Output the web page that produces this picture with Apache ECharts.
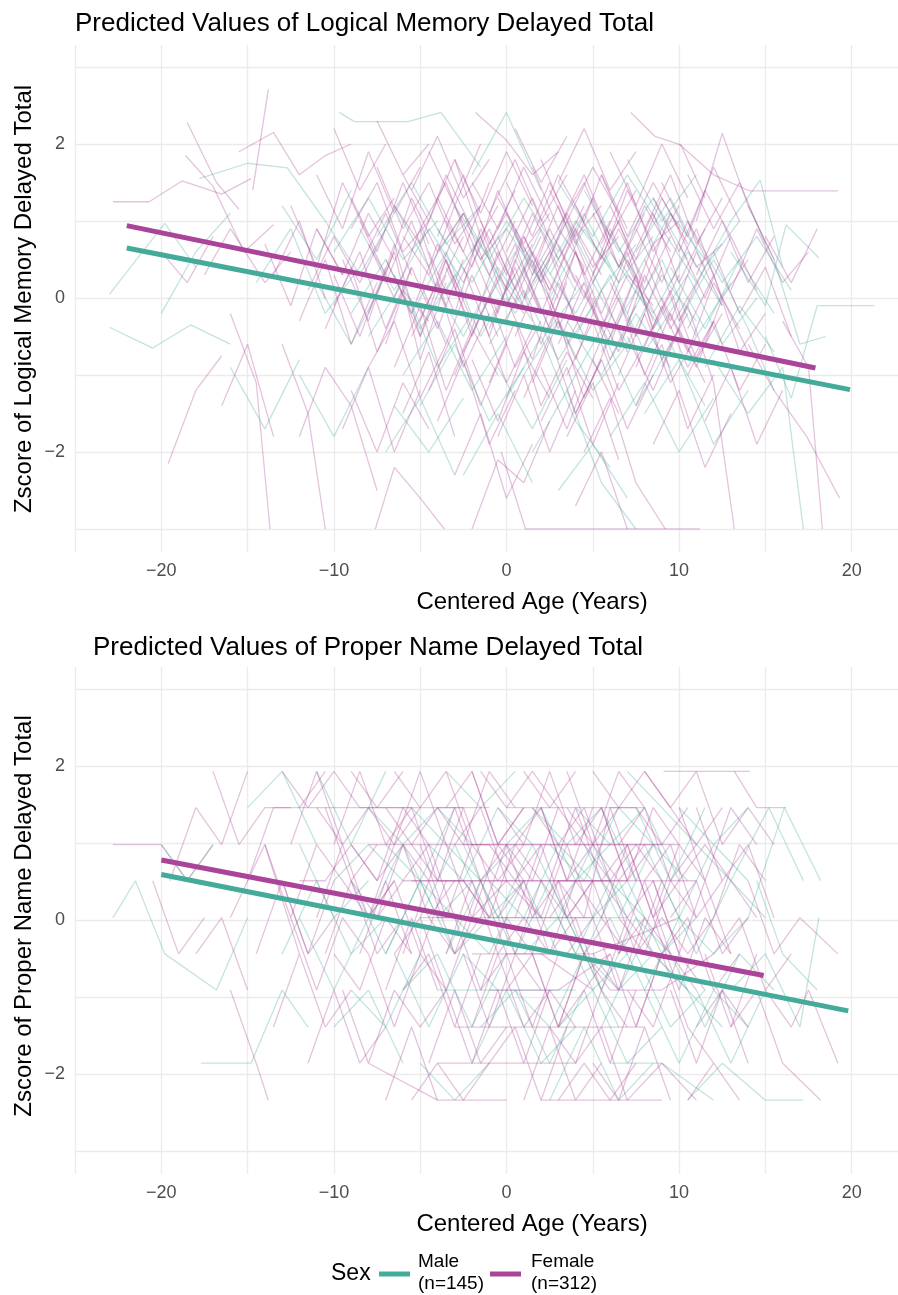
<!DOCTYPE html>
<html>
<head>
<meta charset="utf-8">
<script src="https://cdn.jsdelivr.net/npm/echarts/dist/echarts.min.js"></script>
<style>
  html, body { margin: 0; padding: 0; background: #ffffff; }
  #chart { width: 898px; height: 1295px; }
</style>
</head>
<body>
<div id="chart"></div>
<script>
// colours of the two groups
const MALE = '#44AA99';
const FEMALE = '#AA4499';

const xTicks = [-20, -10, 0, 10, 20];
const yTicks = [-2, 0, 2];

// one row = one subject, flat list of age, zscore, age, zscore ...
// Logical Memory Delayed Total
const lmFemale = [
  [-22.8,1.25,-20.7,1.25,-18.8,1.52,-16.5,1.35,-14.8,1.55],
  [-19.6,-2.15,-18,-1.2,-16.5,-0.75],
  [-18.5,2.28,-16.8,1.5,-15.5,1.15],
  [-14.7,1.4,-13.8,2.71],
  [-18.6,1.85,-17,1.45,-15.2,0.6,-13.5,0.95],
  [-17.5,0.3,-16,0.9,-14,0.2,-12.5,0.6],
  [-16,-0.2,-14.5,-1.1,-13.7,-3.0],
  [-15.5,1.9,-13.5,2.15,-12,1.6,-10.5,1.85,-9,2.0],
  [-14,0.7,-12.5,-0.1,-11,0.9,-9.5,0.3],
  [-13,-0.6,-11.5,-1.5,-10.5,-3.0],
  [-12.5,1.2,-11,0.4,-9.5,1.5,-8,0.8,-6.5,1.3],
  [-12,-1.8,-10.5,-0.9,-9,-1.4,-7.5,-2.5],
  [-11.5,0.1,-10,0.8,-8.5,0.2,-7,0.9],
  [-11,1.6,-9.5,0.9,-8,1.9,-6.5,1.1,-5,1.7],
  [-10.5,-0.4,-9,0.4,-7.5,-0.7,-6,0.1,-4.5,-0.3],
  [-10,2.2,-8.5,1.4,-7,2.0],
  [-9.5,0.5,-8,-0.3,-6.5,0.7,-5,-0.5,-3.5,0.3],
  [-9,-1.2,-7.5,-2.0,-6,-1.1,-4.5,-1.7],
  [-8.5,1.0,-7,0.3,-5.5,1.3,-4,0.6,-2.5,1.1],
  [-8,-0.2,-6.5,0.6,-5,-0.8,-3.5,0.2],
  [-7.6,-3.0,-6.5,-2.2,-5,-2.6,-3.6,-3.0],
  [-7.5,1.7,-6,0.9,-4.5,1.5,-3,0.7,-1.5,1.2],
  [-7,0.2,-5.5,1.0,-4,0.1,-2.5,0.8],
  [-6.5,-0.9,-5,-0.1,-3.5,-1.2,-2,-0.4,-0.5,-1.0],
  [-6,0.8,-4.5,0.3,-3,1.2,-1.5,0.5,0,0.9],
  [-5.5,1.4,-4,2.1,-2.5,1.3,-1,1.8],
  [-5,-0.3,-3.5,0.5,-2,-0.5,-0.5,0.3,1,-0.2],
  [-4.5,0.6,-3,-0.2,-1.5,0.9,0,0.1,1.5,0.7],
  [-4,-1.6,-2.5,-0.8,-1,-1.9,0.5,-1.2],
  [-3.5,1.0,-2,0.4,-0.5,1.4,1,0.6,2.5,1.1],
  [-3,0.1,-1.5,0.8,0,-0.1,1.5,0.6,3,0.0],
  [-2.5,-0.7,-1,0.0,0.5,-0.9,2,-0.3],
  [-2,-3.0,-0.5,-2.1,1,-2.4,2.5,-1.6],
  [-1.8,2.41,0,2.05,1.5,1.6,3,1.9],
  [-1.5,0.5,0,1.1,1.5,0.3,3,0.9,4.5,0.4],
  [-1,-0.4,0.5,0.4,2,-0.6,3.5,0.2],
  [-0.5,1.3,1,0.7,2.5,1.5,4,0.8,5.5,1.2],
  [0,0.0,1.5,-0.8,3,0.2,4.5,-0.5],
  [0.5,0.9,2,0.2,3.5,1.1,5,0.4,6.5,0.8],
  [1,-1.3,2.5,-0.5,4,-1.5,5.5,-0.8],
  [-0.3,-2.0,1.1,-3.0,5,-3.0,11.2,-3.0],
  [1.5,0.4,3,1.2,4.5,0.3,6,1.0],
  [2,1.8,3.5,1.0,5,1.7,6.5,1.1],
  [2.5,-0.2,4,0.6,5.5,-0.4,7,0.3,8.5,-0.1],
  [3,0.7,4.5,0.0,6,0.9,7.5,0.2],
  [3.5,-1.0,5,-0.3,6.5,-1.2,8,-0.6],
  [4,1.2,5.5,0.5,7,1.4,8.5,0.7,10,1.0],
  [4.5,-2.0,6,-1.3,7.5,-2.4,9.2,-3.0],
  [5,0.3,6.5,1.0,8,0.1,9.5,0.8],
  [5.5,1.6,7,0.8,8.5,1.5,10,0.9],
  [6,-0.5,7.5,0.3,9,-0.8,10.5,-0.2],
  [6.5,0.9,8,0.2,9.5,1.1,11,0.4,12.5,0.7],
  [7.2,2.41,8.6,2.1,10.1,1.99,11.5,1.3],
  [7.5,-1.4,9,-0.6,10.5,-1.7,12,-1.0],
  [8,0.5,9.5,-0.3,11,0.6,12.5,-0.1],
  [8.5,1.3,10,0.6,11.5,1.4,13,0.8],
  [9,-0.9,10.5,-0.1,12,-1.1,13.2,-3.0],
  [9.5,0.2,11,0.9,12.5,0.0,14,0.5],
  [10,2.0,12,1.6,14.1,1.39,19.2,1.39],
  [10.5,-0.4,12,0.3,13.5,-0.7,15,-0.2],
  [11,1.0,12.5,2.14,14,1.2,15.5,0.5],
  [11.5,-1.6,13,-0.9,14.5,-1.9,16,-1.2],
  [12,0.6,13.5,-0.2,15,0.4,16.5,-0.5],
  [13,0.1,14.5,0.9,16,0.2,17.5,0.6],
  [14,-0.6,15.5,-1.2,17.4,-1.8,19.3,-2.6],
  [15,0.8,16.5,0.2,18,0.9],
  [16,-0.3,17.5,-0.9,18.3,-3.0],
  [-20,0.6,-18.5,0.2,-17,0.8],
  [-16.5,-1.4,-15,-0.6,-13.5,-1.8],
  [-13.5,0.3,-12,1.0,-10.5,0.0],
  [-2,1.5,-0.5,0.9,1,1.7,2.5,1.0],
  [-1,-1.1,0.5,-0.3,2,-1.4,3.5,-0.7,5,-1.3],
  [0,0.6,1.5,1.3,3,0.5,4.5,1.2],
  [2,-0.9,3.5,-1.7,5,-0.8,6.5,-1.5],
  [3,1.5,4.5,2.2,6,1.4,7.5,1.9],
  [-4,0.3,-2.5,1.1,-1,0.3,0.5,1.0],
  [-6,-1.5,-4.5,-0.7,-3,-1.8],
  [5,0.0,6.5,-0.7,8,0.3,9.5,-0.4,11,0.2],
  [-8.5,0.4,-7,1.1,-5.5,0.3],
  [7,-0.2,8.5,0.7,10,-0.3,11.5,0.4],
  [-9,0.9,-7.5,1.5,-6,0.6,-4.5,1.0],
  [-8,-0.9,-6.5,-0.3,-5,-1.3,-3.5,-0.6],
  [-7,0.5,-5.5,-0.2,-4,0.7,-2.5,0.0],
  [-6.5,1.2,-5,0.7,-3.5,1.6,-2,0.9],
  [-5.5,-0.5,-4,0.2,-2.5,-0.9,-1,-0.2],
  [-5,0.9,-3.5,1.5,-2,0.6,-0.5,1.2],
  [-4.5,-1.2,-3,-0.4,-1.5,-1.4,0,-0.6],
  [-3.5,0.4,-2,-0.4,-0.5,0.6,1,-0.1],
  [-3,1.8,-1.5,1.1,0,1.9,1.5,1.2],
  [-2.5,0.2,-1,0.9,0.5,0.1,2,0.8],
  [-2,-0.8,-0.5,-1.6,1,-0.7,2.5,-1.3],
  [-1.5,1.0,0,0.3,1.5,1.1,3,0.4],
  [-1,0.0,0.5,0.7,2,-0.2,3.5,0.6],
  [-0.5,-1.8,1,-1.0,2.5,-2.0,4,-1.2],
  [0,1.5,1.5,0.8,3,1.6,4.5,1.0],
  [0.5,-0.5,2,0.3,3.5,-0.6,5,0.1],
  [1,0.8,2.5,0.1,4,0.9,5.5,0.3],
  [1.5,-1.1,3,-0.3,4.5,-1.3,6,-0.5],
  [2,0.3,3.5,1.0,5,0.2,6.5,0.9],
  [2.5,1.4,4,0.7,5.5,1.6,7,0.9],
  [3,-0.6,4.5,0.2,6,-0.8,7.5,-0.1],
  [3.5,0.6,5,1.3,6.5,0.4,8,1.1],
  [4,-1.5,5.5,-0.8,7,-1.7,8.5,-1.0],
  [4.5,0.1,6,-0.6,7.5,0.3,9,-0.4],
  [5,1.1,6.5,0.4,8,1.2,9.5,0.6],
  [5.5,-0.2,7,0.6,8.5,-0.4,10,0.3],
  [6,1.9,7.5,1.2,9,2.0,10.5,1.3],
  [6.5,-1.0,8,-0.2,9.5,-1.1,11,-0.5],
  [7,0.4,8.5,1.1,10,0.2,11.5,0.9],
  [7.5,0.9,9,0.2,10.5,1.0,12,0.3],
  [8,-0.6,9.5,0.1,11,-0.8,12.5,-0.2],
  [8.5,-1.9,10,-1.2,11.5,-2.2,13,-1.5],
  [9,1.5,10.5,0.8,12,1.7,13.5,1.0],
  [9.5,-0.2,11,-0.9,12.5,0.0,14,-0.7],
  [10,0.7,11.5,0.0,13,0.8,14.5,0.1],
  [10.5,-1.0,12,-0.3,13.5,-1.2,15,-0.6],
  [11,0.3,12.5,1.0,14,0.2,15.5,0.8],
  [-10,-0.1,-8.5,0.6,-7,-0.4,-5.5,0.4],
  [-11,0.9,-9.5,0.3,-8,1.1,-6.5,0.5],
  [-12,-0.3,-10.5,0.5,-9,-0.6,-7.5,0.2],
  [-9.5,-1.7,-8,-0.9,-6.5,-2.0,-5,-1.2],
  [-7.5,2.3,-6,1.6,-4.5,2.0],
  [-3,-2.3,-1.5,-1.5,0,-2.6,1.5,-1.9],
  [0.5,2.2,2,1.5,3.5,2.1],
  [4,-2.7,5.5,-2.0,7,-3.0],
  [-4,1.3,-2.5,0.6,-1,1.5],
  [1,0.0,2.5,0.6,4,-0.3],
  [6,0.2,7.5,-0.5,9,0.4],
  [-8,0.7,-6.5,0.0,-5,0.9,-3.5,-0.1],
  [-7,-0.6,-5.5,0.4,-4,-0.4,-2.5,0.5],
  [-6,1.6,-4.5,1.0,-3,1.8,-1.5,0.8],
  [-5,0.2,-3.5,-0.6,-2,0.3,-0.5,-0.5],
  [-4,0.8,-2.5,1.6,-1,0.7,0.5,1.4],
  [-3,-1.0,-1.5,-0.2,0,-1.1,1.5,-0.4],
  [-2,0.6,-0.5,-0.2,1,0.8,2.5,0.1],
  [-1,1.1,0.5,1.8,2,1.0,3.5,1.6],
  [0,-0.3,1.5,0.5,3,-0.4,4.5,0.4],
  [1,0.4,2.5,-0.4,4,0.6,5.5,-0.2],
  [2,-1.6,3.5,-0.9,5,-1.9,6.5,-1.1],
  [3,0.9,4.5,1.6,6,0.8,7.5,1.4],
  [4,0.3,5.5,-0.4,7,0.5,8.5,-0.3],
  [5,-0.8,6.5,0.0,8,-1.0,9.5,-0.2],
  [6,1.2,7.5,0.5,9,1.3,10.5,0.7],
  [7,-0.5,8.5,-1.2,10,-0.4,11.5,-1.1],
  [8,0.9,9.5,1.6,11,0.7,12.5,1.3],
  [9,0.0,10.5,-0.7,12,0.2,13.5,-0.4],
  [-6.5,0.3,-5,-0.5,-3.5,0.5,-2,-0.3],
  [-4.5,1.9,-3,1.2,-1.5,2.0],
  [-2.5,0.4,-1,-0.5,0.5,0.5,2,-0.2],
  [-0.5,0.8,1,0.0,2.5,0.9,4,0.2],
  [1.5,1.7,3,0.9,4.5,1.5,6,0.7],
  [2.5,0.0,4,-0.8,5.5,0.1,7,-0.7],
  [3.5,-1.8,5,-1.1,6.5,-2.1],
  [5.5,0.7,7,1.5,8.5,0.6,10,1.2],
  [7.5,-0.9,9,-0.1,10.5,-0.9,12,-0.3],
  [-9,1.3,-7.5,0.6,-6,1.5,-4.5,0.7],
  [-10,0.3,-8.5,-0.5,-7,0.4],
  [10.5,1.6,12,0.9,13.5,1.5,15,0.7]
];
const lmMale = [
  [-23,0.05,-19.8,0.97,-18,0.4],
  [-23,-0.38,-20.5,-0.65,-18.3,-0.35,-16,-0.6],
  [-17.8,1.55,-15,1.75,-12.7,1.69,-10.5,1.0],
  [-9.7,2.41,-8.8,2.29,-5.7,2.29,-3.8,2.41,-1.5,1.7],
  [-14.5,0.2,-12.5,0.9,-10.5,-0.2,-8.5,0.4],
  [-12,-1.0,-10,-1.8,-8,-0.9],
  [-10,0.6,-8,1.3,-6,0.5,-4,1.0],
  [-8,-0.5,-6,0.2,-4,-0.9,-2,-0.2],
  [-6.5,1.2,-4.5,0.4,-2.5,1.1,-0.5,0.3],
  [-5,-1.4,-3,-0.6,-1,-1.6,1,-0.9],
  [-3.5,0.1,-1.5,0.8,0.5,-0.2,2.5,0.5],
  [-2,1.6,0,2.41,2,1.4],
  [-1,-0.6,1,0.1,3,-0.8,5,-0.1],
  [0.5,0.8,2.5,0.0,4.5,0.9,6.5,0.2],
  [1.5,-2.0,3.5,-1.2,5.5,-2.4,7.5,-3.0],
  [2.5,0.3,4.5,1.1,6.5,0.2,8.5,0.8],
  [3.5,-0.3,5.5,-1.0,7.5,-0.2,9.5,-0.9],
  [4.5,1.4,6.5,0.6,8.5,1.3,10.5,0.5],
  [5.5,-0.7,7.5,0.1,9.5,-0.6,11.5,-1.4],
  [6.5,0.5,8.5,-0.2,10.5,0.6,12.5,-0.1],
  [8,-1.5,10,-0.8,12,-1.9,14,-1.2],
  [9,0.9,11,0.2,13,1.0,14.7,1.53,16,0.4],
  [10,-0.3,12,0.5,14,-0.4,15.5,-1.2],
  [12,-0.8,14,-1.5,16,-0.9,17.2,-3.0],
  [13,0.6,15,-0.1,16.2,0.95,18.1,0.52],
  [15,-0.5,16.5,-1.3,18,-0.1,21.3,-0.1],
  [14,1.2,15.5,0.5,17,-0.6,18.5,-0.5],
  [-16,-0.9,-14,-1.7,-12,-0.8],
  [-4,0.9,-2,0.2,0,1.0,2,0.3],
  [0,-1.3,2,-0.5,4,-1.6,6,-2.2],
  [-20,-0.2,-18,0.6,-16,1.1],
  [7,1.8,9,1.0,11,1.6],
  [3,-2.5,5,-1.9,7,-2.6],
  [-7,-2.0,-5,-1.3,-3,-2.3],
  [-9,-0.2,-7,0.5,-5,-0.4,-3,0.3],
  [-7.5,0.8,-5.5,1.5,-3.5,0.7,-1.5,1.2],
  [-6,-1.0,-4,-0.3,-2,-1.2,0,-0.5],
  [-4.5,0.3,-2.5,-0.5,-0.5,0.4,1.5,-0.3],
  [-3,1.2,-1,0.5,1,1.3,3,0.6],
  [-1.5,-0.2,0.5,0.6,2.5,-0.4,4.5,0.2],
  [0,0.9,2,0.2,4,1.0,6,0.4],
  [1,-1.0,3,-0.3,5,-1.2,7,-0.6],
  [2,0.5,4,-0.2,6,0.6,8,-0.1],
  [3,1.5,5,0.8,7,1.6,9,0.9],
  [4,-0.5,6,0.3,8,-0.7,10,0.0],
  [5,0.2,7,-0.6,9,0.3,11,-0.3],
  [6,-1.8,8,-1.1,10,-2.0,12,-1.3],
  [7.5,0.6,9.5,1.3,11.5,0.4,13.5,1.0],
  [8.5,-0.4,10.5,0.3,12.5,-0.6,14.5,0.0],
  [-11,0.2,-9,-0.6,-7,0.3],
  [-2.5,-2.3,-0.5,-1.5,1.5,-2.4],
  [10.5,1.0,12.5,0.2,14.5,0.8,16.5,0.1],
  [-13,1.2,-11,0.5,-9,1.4],
  [-8.5,0.9,-6.5,0.1,-4.5,0.9,-2.5,0.2],
  [-5.5,-0.2,-3.5,0.6,-1.5,-0.5,0.5,0.3],
  [-2,0.7,0,-0.1,2,0.9,4,0.1],
  [1.5,0.2,3.5,1.0,5.5,0.1,7.5,0.7],
  [3.5,-1.2,5.5,-0.4,7.5,-1.4,9.5,-0.6],
  [5.5,1.0,7.5,0.3,9.5,1.1,11.5,0.5],
  [7,-0.3,9,0.5,11,-0.5,13,0.2],
  [9.5,0.4,11.5,-0.4,13.5,0.5,15.5,-0.2],
  [-0.5,-0.9,1.5,-1.7,3.5,-0.8],
  [-10.5,1.0,-8.5,0.3,-6.5,1.1],
  [11.5,-0.9,13.5,-0.1,15.5,-0.7],
  [-6.5,-1.4,-4.5,-2.0,-2.5,-1.3]
];

// Proper Name Delayed Total (scores sit on fixed levels)
const pnFemale = [
  [-22.8,0.98,-20,0.98,-18.5,0.51,-17,0.98],
  [-19.5,0.51,-18,1.46,-16.5,0.98,-15,1.93],
  [-18,-0.44,-16.5,0.03,-15,-0.91],
  [-17,1.93,-15.5,0.98,-14,1.46,-12.5,1.46],
  [-16,-0.91,-14.5,-1.86,-13.8,-2.34],
  [-15,0.51,-13.5,1.46,-12,1.46,-10.5,1.93],
  [-14.5,-0.44,-13,0.51,-11.5,-0.44,-10,0.03],
  [-14,0.98,-12.5,0.03,-11,0.98,-9.5,0.51],
  [-13.5,-1.39,-12,-0.44,-10.5,-1.39,-9,-0.91],
  [-13,1.93,-11.5,1.46,-10,1.93,-8.5,1.46],
  [-12.5,0.03,-11,-0.91,-9.5,0.03,-8,-0.44],
  [-12,0.51,-10.5,0.51,-9,0.98,-7.5,0.51],
  [-11.5,-1.86,-10,-0.91,-8.5,-1.86,-7,-1.39],
  [-11,1.46,-9.5,0.98,-8,1.46,-6.5,0.98,-5,1.46],
  [-10.5,-0.44,-9,0.51,-7.5,-0.44,-6,0.03],
  [-10,0.98,-8.5,1.93,-7,0.98,-5.5,1.46],
  [-9.5,-0.91,-8,-1.86,-6.5,-0.91,-5,-1.39],
  [-9,0.51,-7.5,0.03,-6,0.51,-4.5,0.98],
  [-8.5,1.46,-7,1.46,-5.5,1.46,-4,0.51],
  [-8,-0.44,-6.5,-1.39,-5,-0.44,-3.5,-0.91],
  [-7.5,0.03,-6,0.98,-4.5,0.03,-3,0.51],
  [-7,-2.34,-5.5,-1.39,-4,-2.34],
  [-6.5,1.93,-5,1.46,-3.5,1.93,-2,0.98],
  [-6,-0.91,-4.5,-0.44,-3,-1.39,-1.5,-0.44],
  [-5.5,0.51,-4,0.51,-2.5,0.51,-1,0.03],
  [-5,0.98,-3.5,0.03,-2,0.98,-0.5,0.51,1,0.98],
  [-4.5,-1.86,-3,-0.91,-1.5,-1.86,0,-1.39],
  [-4,1.46,-2.5,0.98,-1,1.93,0.5,1.46],
  [-3.5,-0.44,-2,0.51,-0.5,-0.44,1,0.03],
  [-3,0.03,-1.5,-0.91,0,0.03,1.5,-0.44],
  [-2.5,0.98,-1,0.98,0.5,0.51,2,0.98],
  [-2,-1.39,-0.5,-0.44,1,-1.39,2.5,-0.91],
  [-1.5,1.93,0,1.46,1.5,1.93,3,1.46],
  [-1,0.51,0.5,-0.44,2,0.51,3.5,0.03],
  [-0.5,-0.91,1,-1.86,2.5,-0.91,4,-1.39],
  [0,0.98,1.5,0.51,3,1.46,4.5,0.98],
  [0.5,0.03,2,0.98,3.5,0.03,5,0.51],
  [1,-2.34,2.5,-1.39,4,-2.34,5.5,-1.86],
  [1.5,1.46,3,0.98,4.5,1.46,6,0.51],
  [2,-0.44,3.5,-0.44,5,0.03,6.5,-0.91],
  [2.5,0.51,4,1.46,5.5,0.51,7,0.98],
  [3,-1.39,4.5,-0.91,6,-1.86,7.5,-0.91],
  [3.5,1.93,5,0.98,6.5,1.93,8,1.46],
  [4,0.03,5.5,-0.91,7,0.03,8.5,-0.44],
  [4.5,0.98,6,0.51,7.5,0.98,9,0.51],
  [5,-1.86,6.5,-2.34,8,-1.39,9.5,-2.34],
  [5.5,0.51,7,0.03,8.5,0.51,10,-0.44],
  [6,1.46,7.5,1.46,9,0.98,10.5,1.46],
  [6.5,-0.44,8,0.51,9.5,-0.44,11,-0.91],
  [7,0.98,8.5,0.03,10,0.98,11.5,0.51],
  [7.5,-1.39,9,-0.44,10.5,-1.39,12,-1.86],
  [8,1.93,9.5,1.46,11,1.93,12.5,0.98],
  [8.5,0.03,10,-0.91,11.5,0.03,13,-0.44],
  [9.1,1.93,11.5,1.93,14.1,1.93],
  [9.5,-0.91,11,-1.86,12.5,-0.91,14,-1.39],
  [10,0.51,11.5,0.98,13,0.51,14.5,0.03],
  [10.5,-2.34,12,-1.86,13.5,-2.34],
  [11,1.46,12.5,0.51,14,0.98,15.5,0.03],
  [12,-0.44,13.5,0.03,15,-0.91,16.5,-0.44],
  [13.2,1.93,14.5,1.46,16.2,1.46],
  [13,-1.39,14.5,-0.91,16,-1.86,18.2,-2.34],
  [14,0.51,15.5,-0.44,17,0.03,19.2,-0.44],
  [15,-0.91,16.5,-1.39,17.5,-0.91,19.2,-1.86],
  [-12,1.46,-6,1.46,-1,1.46],
  [-2,0.98,4,0.98,9,0.98],
  [-6,0.51,0,0.51,6,0.51],
  [-3,-1.39,3,-1.39,8,-1.39],
  [-8,-1.86,-4,-2.34,0,-2.34],
  [2,-2.34,6,-2.34,9,-2.34],
  [-16,0.03,-14,0.98,-12,-0.44],
  [-20.5,0.51,-19,-0.44,-17.5,0.03],
  [-1,-0.91,3,-0.91,6,-0.44],
  [0,-0.44,5,-0.44,10,0.03],
  [-9,1.93,-7.5,1.46,-6,1.93],
  [5,1.93,6.5,1.46,8,1.93,9.5,1.46],
  [-4,0.03,-2,0.03,0,0.51,2,0.03],
  [11.5,-0.44,13,-1.39,14.5,-0.44],
  [3,0.51,4.5,0.03,6,1.46,7.5,0.51],
  [-7,-0.91,-5.5,0.03,-4,-0.91],
  [12.5,0.98,14,1.46,15.5,0.98],
  [-9,0.98,-7.5,0.51,-6,0.98,-4.5,0.51],
  [-8,0.03,-6.5,0.51,-5,-0.44,-3.5,0.51],
  [-7,1.46,-5.5,0.98,-4,1.46,-2.5,1.46],
  [-6,-0.44,-4.5,0.51,-3,-0.44,-1.5,0.03],
  [-5,-1.39,-3.5,-0.91,-2,-1.86,-0.5,-0.91],
  [-4.5,0.51,-3,1.46,-1.5,0.51,0,0.98],
  [-3.5,0.98,-2,0.03,-0.5,0.98,1,0.51],
  [-2.5,-0.44,-1,-1.39,0.5,-0.44,2,-0.91],
  [-1.5,0.03,0,0.98,1.5,0.03,3,0.51],
  [-0.5,1.46,1,0.98,2.5,1.93,4,0.98],
  [0,-0.91,1.5,-0.44,3,-1.39,4.5,-0.44],
  [0.5,0.51,2,0.03,3.5,0.98,5,0.03],
  [1.5,-0.44,3,0.51,4.5,-0.44,6,0.03],
  [2,1.46,3.5,0.51,5,0.98,6.5,1.46],
  [2.5,-1.39,4,-1.86,5.5,-0.91,7,-1.39],
  [3.5,0.03,5,0.51,6.5,-0.44,8,0.03],
  [4,0.98,5.5,1.46,7,0.51,8.5,0.98],
  [5,-0.44,6.5,-0.91,8,0.03,9.5,-0.44],
  [5.5,1.46,7,0.51,8.5,1.46,10,0.98],
  [6.5,0.03,8,-0.44,9.5,0.51,11,0.03],
  [7,-0.91,8.5,-1.39,10,-0.44,11.5,-0.91],
  [8,0.51,9.5,0.98,11,0.03,12.5,0.51],
  [9,-0.44,10.5,0.03,12,-0.91,13.5,-0.44],
  [10,1.46,11.5,0.51,13,1.46,14.5,0.98],
  [-11,0.03,-9.5,0.98,-8,0.03,-6.5,0.51],
  [-10,-0.44,-8.5,-0.91,-7,0.03,-5.5,-0.44],
  [-12.5,0.98,-11,1.93,-9.5,0.98],
  [-2,1.93,-0.5,0.98,1,1.46],
  [-5.5,-2.34,-4,-1.86,-2.5,-2.34,-1,-1.86],
  [3,-2.34,4.5,-1.86,6,-2.34,7.5,-1.86],
  [0,1.46,4,1.46,8,1.46],
  [-8,0.98,-3,0.98,2,0.98],
  [3,0.51,8,0.51,11,0.51],
  [-5,0.03,0,0.03,5,0.03],
  [-2,-0.44,2,-0.44,5,-0.91],
  [6,-0.91,9,-0.91,12,-0.44],
  [-4,-1.86,0,-1.86,4,-1.86],
  [7,-2.34,9,-1.86,11,-2.34],
  [1,1.93,2.5,1.46,4,1.93],
  [-13,0.51,-11.5,-0.44,-10,0.51],
  [11,-1.39,12.5,-0.91,14,-1.86],
  [12,0.03,13.5,0.98,15,0.51],
  [-6.5,0.98,-5,1.93,-3.5,0.98],
  [9.5,1.46,11,0.98,12.5,1.46],
  [-7.5,0.51,-6,1.46,-4.5,0.98,-3,0.03],
  [-6.5,-0.44,-5,0.03,-3.5,-0.91,-2,0.03],
  [-5.5,0.98,-4,0.51,-2.5,1.46,-1,0.51],
  [-4.5,0.03,-3,-0.44,-1.5,0.51,0,-0.44],
  [-3.5,1.46,-2,1.93,-0.5,0.98,1,1.46],
  [-2.5,0.51,-1,0.03,0.5,0.98,2,0.51],
  [-1.5,-0.91,0,-0.44,1.5,-1.39,3,-0.44],
  [-0.5,0.03,1,0.51,2.5,-0.44,4,0.51],
  [0.5,0.98,2,1.46,3.5,0.51,5,1.46],
  [1.5,-0.44,3,-1.39,4.5,-0.44,6,-0.91],
  [2.5,0.03,4,0.51,5.5,0.03,7,-0.44],
  [3.5,1.46,5,0.98,6.5,0.51,8,0.98],
  [4.5,-0.91,6,-0.44,7.5,-1.39,9,-0.44],
  [5.5,0.03,7,0.98,8.5,0.03,10,0.51],
  [6.5,0.98,8,1.46,9.5,0.51,11,0.98],
  [7.5,-0.44,9,0.03,10.5,-0.44,12,0.03],
  [8.5,0.51,10,-0.44,11.5,0.51,13,-0.44],
  [-8.5,-0.44,-7,0.51,-5.5,-0.44],
  [-9.5,0.51,-8,0.03,-6.5,0.98],
  [-1,-1.86,0.5,-1.39,2,-2.34,3.5,-1.39],
  [4,-1.86,5.5,-1.39,7,-2.34],
  [-3,0.98,-1.5,1.46,0,0.51],
  [1,0.03,2.5,-0.44,4,0.03],
  [6,0.51,7.5,-0.44,9,0.51],
  [9.5,0.03,11,0.51,12.5,-0.44,14,0.03],
  [-10.5,1.46,-9,0.51,-7.5,0.98],
  [2,0.98,6,0.98,10,0.98],
  [-4,0.51,2,0.51,7,0.51]
];
const pnMale = [
  [-22.8,0.03,-21.5,0.51,-19.8,-0.44,-16.8,-0.91,-15,0.03],
  [-17.7,-1.86,-14.8,-1.86,-13,-0.91,-11.5,-1.39],
  [-20,0.98,-18.5,0.51,-17,0.98],
  [-15,1.46,-13,1.93,-11,0.98],
  [-13,-0.44,-11,0.51,-9,-0.44,-7,0.03],
  [-11,1.93,-9,0.98,-7,1.93],
  [-10,-1.39,-8,-0.91,-6,-1.86],
  [-9,0.51,-7,-0.44,-5,0.51,-3,0.03],
  [-8,1.46,-6,0.98,-4,1.46,-2,0.98],
  [-6.5,-0.44,-4.5,-1.39,-2.5,-0.44,-0.5,-0.91],
  [-5,0.03,-3,0.98,-1,0.03,1,0.51],
  [-3.5,1.93,-1.5,1.46,0.5,1.93],
  [-2,-1.86,0,-0.91,2,-1.86,4,-1.39],
  [-1,0.51,1,0.03,3,0.98,5,0.51],
  [0.5,-0.44,2.5,0.51,4.5,-0.44,6.5,-0.91],
  [1.5,1.46,3.5,0.98,5.5,1.46,7.5,0.51],
  [2.5,-2.34,4.5,-1.39,6.5,-2.34,8.5,-1.86],
  [3.5,0.03,5.5,-0.91,7.5,0.03,9.5,-0.44],
  [4.5,0.98,6.5,0.03,8.5,0.98,10.5,0.51],
  [5.5,-1.39,7.5,-0.44,9.5,-1.39,11.5,-0.91],
  [7,1.93,9,1.46,11,0.98],
  [8,-0.91,10,-1.86,12,-0.91,14,-1.39],
  [9,0.51,11,-0.44,13,0.51,15,0.03],
  [10.5,-2.34,12.5,-1.86,15,-2.34,17.2,-2.34],
  [11,0.98,13,0.51,15.2,1.46,17.2,0.51],
  [12,-0.44,14,0.03,16.1,1.46,18.2,0.51],
  [13,-0.91,15,-0.44,17,-1.39,18.1,0.03],
  [14.5,0.51,16,-0.44,18,-0.91],
  [-4,-0.91,0,-0.91,4,-0.91],
  [-1,0.03,3,0.03,7,0.03],
  [6,-1.86,9,-1.86,12,-2.34],
  [-12,0.03,-10,-0.91,-8,0.03],
  [-7,0.98,-5,0.51,-3,1.46],
  [-8,0.03,-6,0.98,-4,0.03,-2,0.51],
  [-6,-0.91,-4,-0.44,-2,-1.39,0,-0.44],
  [-4.5,0.98,-2.5,0.51,-0.5,1.46,1.5,0.98],
  [-3,0.03,-1,-0.44,1,0.51,3,-0.44],
  [-1.5,-1.39,0.5,-0.91,2.5,-1.86,4.5,-0.91],
  [0,0.98,2,1.46,4,0.51,6,0.98],
  [1,-0.44,3,0.03,5,-0.91,7,-0.44],
  [2,0.51,4,-0.44,6,0.51,8,0.03],
  [3,-1.39,5,-0.91,7,-1.86,9,-1.39],
  [4,1.46,6,0.98,8,1.46,10,0.51],
  [5,0.03,7,0.51,9,-0.44,11,0.03],
  [6.5,-0.91,8.5,-0.44,10.5,-0.91,12.5,-1.39],
  [8,0.98,10,0.03,12,0.98,14,0.51],
  [9.5,-0.44,11.5,-1.39,13.5,-0.44,15.5,-0.91],
  [-10,0.51,-8,0.98,-6,0.51],
  [-5,-1.86,-3,-2.34,-1,-1.86],
  [-12,0.98,-10,0.03,-8,0.51],
  [10,1.46,12,0.98,14,1.46],
  [-7,-0.44,-5,0.51,-3,-0.44,-1,0.03],
  [-5.5,1.46,-3.5,0.98,-1.5,0.51,0.5,0.98],
  [-2.5,0.98,-0.5,0.03,1.5,0.98,3.5,0.03],
  [0.5,-0.91,2.5,-1.39,4.5,-0.44,6.5,-1.39],
  [2.5,0.98,4.5,0.51,6.5,1.46,8.5,0.98],
  [4.5,-0.44,6.5,0.51,8.5,-0.44,10.5,-0.91],
  [6,0.03,8,-0.91,10,0.03,12,-0.44],
  [7.5,1.46,9.5,0.51,11.5,1.46],
  [-9,-0.91,-7,-1.39,-5,-0.44],
  [11,-0.91,13,-1.86,15,-0.91],
  [-3.5,-0.44,-1.5,0.51,0.5,-0.44],
  [3,0.03,5,0.98,7,0.03]
];

// fitted lines, end points
const lmFitMale = [[-22, 0.65], [19.9, -1.19]];
const lmFitFemale = [[-22, 0.94], [17.9, -0.91]];
const pnFitMale = [[-20, 0.59], [19.8, -1.18]];
const pnFitFemale = [[-20, 0.78], [14.9, -0.72]];

const font = '"Liberation Sans", Arial, Helvetica, sans-serif';

function pairs(t) {
  const out = [];
  for (let i = 0; i < t.length; i += 2) out.push([t[i], t[i + 1]]);
  return out;
}
function tickText(v) {
  return v < 0 ? '\u2212' + Math.abs(v) : String(v);
}

const panels = [
  { top: 45, fem: lmFemale, male: lmMale, fitF: lmFitFemale, fitM: lmFitMale },
  { top: 667, fem: pnFemale, male: pnMale, fitF: pnFitFemale, fitM: pnFitMale }
];

const grid = [], xAxis = [], yAxis = [], series = [];

function traj(t, color, idx) {
  return {
    type: 'line', xAxisIndex: idx, yAxisIndex: idx,
    data: pairs(t), symbol: 'none', silent: true, z: 2,
    lineStyle: { color: color, width: 1.3, opacity: 0.32 }
  };
}

panels.forEach(function (p) {
  const bg = grid.length;
  // outer grid only carries the vertical grid lines and x labels
  grid.push({ left: 75, width: 863, top: p.top, height: 507, outerBoundsMode: 'none' });
  grid.push({ left: 75, width: 863, top: p.top + 22, height: 462, outerBoundsMode: 'none' });

  xAxis.push({
    gridIndex: bg, type: 'value', min: -25, max: 25, interval: 5,
    axisLine: { show: false }, axisTick: { show: false },
    axisLabel: {
      color: '#4D4D4D', fontSize: 18, fontFamily: font, margin: 10,
      formatter: function (v) { return xTicks.indexOf(v) >= 0 ? tickText(v) : ''; }
    },
    splitLine: { lineStyle: { color: '#EBEBEB', width: 1.3 } }
  });
  xAxis.push({ gridIndex: bg + 1, type: 'value', min: -25, max: 25, show: false });

  yAxis.push({ gridIndex: bg, type: 'value', min: 0, max: 1, show: false });
  yAxis.push({
    gridIndex: bg + 1, type: 'value', min: -3, max: 3, interval: 1,
    axisLine: { show: false }, axisTick: { show: false },
    axisLabel: {
      color: '#4D4D4D', fontSize: 18, fontFamily: font, margin: 10,
      formatter: function (v) { return yTicks.indexOf(v) >= 0 ? tickText(v) : ''; }
    },
    splitLine: { lineStyle: { color: '#EBEBEB', width: 1.3 } }
  });

  const n = Math.max(p.fem.length, p.male.length);
  for (let i = 0; i < n; i++) {
    if (i < p.fem.length) series.push(traj(p.fem[i], FEMALE, bg + 1));
    if (i < p.male.length) series.push(traj(p.male[i], MALE, bg + 1));
  }
  series.push({
    type: 'line', xAxisIndex: bg + 1, yAxisIndex: bg + 1, data: p.fitM,
    symbol: 'none', silent: true, z: 5, lineStyle: { color: MALE, width: 5 }
  });
  series.push({
    type: 'line', xAxisIndex: bg + 1, yAxisIndex: bg + 1, data: p.fitF,
    symbol: 'none', silent: true, z: 5, lineStyle: { color: FEMALE, width: 5 }
  });
});

function txt(x, y, s, size, extra) {
  return Object.assign({
    type: 'text', x: x, y: y, silent: true,
    style: { text: s, fontSize: size, fontFamily: font, fill: '#000000', align: 'left', verticalAlign: 'middle' }
  }, extra || {});
}

const graphic = [
  txt(75, 24, 'Predicted Values of Logical Memory Delayed Total', 26),
  txt(93, 648, 'Predicted Values of Proper Name Delayed Total', 26),
  txt(532, 602, 'Centered Age (Years)', 24),
  txt(532, 1224, 'Centered Age (Years)', 24),
  txt(24, 299, 'Zscore of Logical Memory Delayed Total', 24, { rotation: Math.PI / 2 }),
  txt(24, 916, 'Zscore of Proper Name Delayed Total', 24, { rotation: Math.PI / 2 }),
  txt(331, 1274, 'Sex', 23),
  { type: 'rect', shape: { x: 379, y: 1271.5, width: 31, height: 5 }, style: { fill: MALE }, silent: true },
  txt(418, 1262, 'Male', 19),
  txt(418, 1284, '(n=145)', 19),
  { type: 'rect', shape: { x: 490, y: 1271.5, width: 31, height: 5 }, style: { fill: FEMALE }, silent: true },
  txt(531, 1262, 'Female', 19),
  txt(531, 1284, '(n=312)', 19)
];
// centred titles
[2, 3, 4, 5].forEach(function (i) { graphic[i].style.align = 'center'; });

const chart = echarts.init(document.getElementById('chart'));
chart.setOption({
  animation: false,
  backgroundColor: '#ffffff',
  grid: grid,
  xAxis: xAxis,
  yAxis: yAxis,
  series: series,
  graphic: graphic
});
</script>
</body>
</html>
